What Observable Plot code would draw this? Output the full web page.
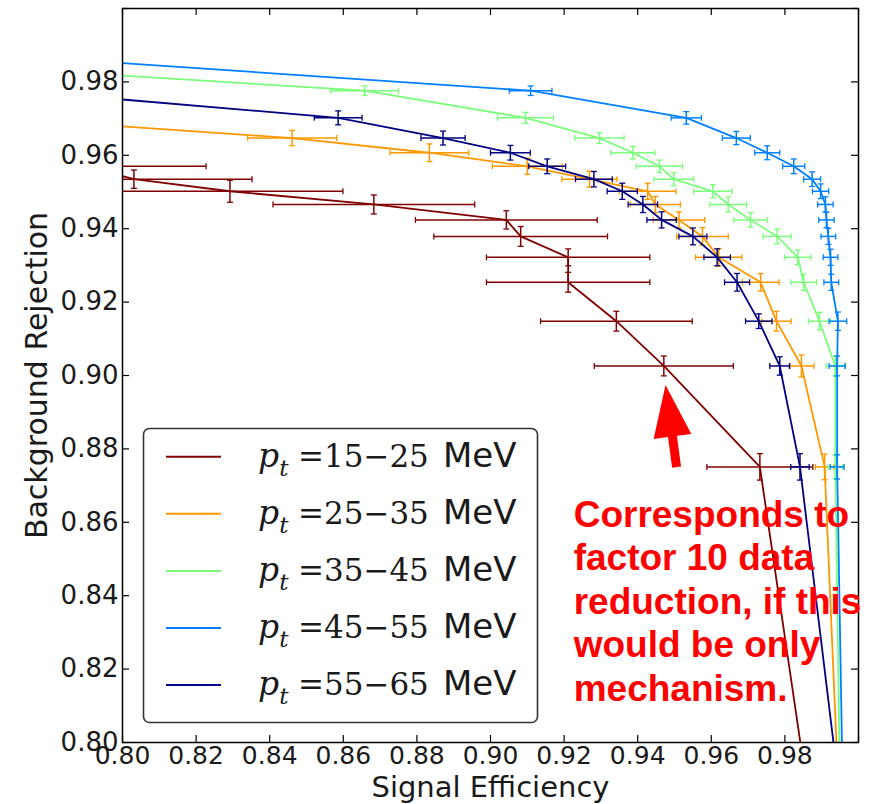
<!DOCTYPE html>
<html>
<head>
<meta charset="utf-8">
<script src="https://cdn.jsdelivr.net/npm/d3@7"></script>
<script src="https://cdn.jsdelivr.net/npm/@observablehq/plot@0.6"></script>
<style>
  html, body { margin: 0; padding: 0; background: #fff; }
  #wrap { position: relative; width: 875px; height: 804px; overflow: hidden; }
  #wrap > svg { position: absolute; left: 0; top: 0; }
</style>
</head>
<body>
<div id="wrap"></div>
<script>
// ---------------- data ----------------
const ptRanges = ["15\u221225", "25\u221235", "35\u221245", "45\u221255", "55\u221265"];
const seriesColors = ["#800000", "#ff9700", "#7bff7b", "#0080ff", "#000080"];

// pT 15-25 MeV (first point lies just left of the frame, last point is where the line leaves the frame)
const eff_15_25    = [0.7899, 0.8031, 0.8292, 0.8683, 0.9043, 0.9082, 0.9211, 0.9211, 0.9342, 0.9471, 0.9732, 0.9842];
const rej_15_25    = [0.9570, 0.9535, 0.9502, 0.9466, 0.9424, 0.9379, 0.9322, 0.9254, 0.9148, 0.9026, 0.8751, 0.8000];
const effErr_15_25 = [0.0328, 0.0321, 0.0307, 0.0274, 0.0247, 0.0236, 0.0222, 0.0222, 0.0206, 0.0189, 0.0144, null];
const rejErr_15_25 = [0.0025, 0.0025, 0.0030, 0.0026, 0.0025, 0.0027, 0.0023, 0.0027, 0.0027, 0.0027, 0.0036, null];

// pT 25-35 MeV
const eff_25_35    = [0.8000, 0.8461, 0.8834, 0.9100, 0.9269, 0.9427, 0.9448, 0.9512, 0.9576, 0.9620, 0.9734, 0.9777, 0.9845, 0.9908, 0.9940];
const rej_25_35    = [0.9679, 0.9647, 0.9607, 0.9570, 0.9535, 0.9502, 0.9466, 0.9424, 0.9379, 0.9322, 0.9254, 0.9148, 0.9026, 0.8751, 0.8000];
const effErr_25_35 = [null, 0.0121, 0.0107, 0.0095, 0.0075, 0.0077, 0.0068, 0.0070, 0.0070, 0.0063, 0.0050, 0.0040, 0.0034, 0.0025, null];
const rejErr_25_35 = [null, 0.0021, 0.0024, 0.0022, 0.0022, 0.0022, 0.0022, 0.0022, 0.0024, 0.0024, 0.0024, 0.0027, 0.0030, 0.0035, null];

// pT 35-45 MeV
const eff_35_45    = [0.8000, 0.8658, 0.9095, 0.9296, 0.9387, 0.9459, 0.9498, 0.9604, 0.9646, 0.9707, 0.9779, 0.9835, 0.9851, 0.9894, 0.9937, 0.9937, 0.9948];
const rej_35_45    = [0.9817, 0.9776, 0.9702, 0.9647, 0.9607, 0.9570, 0.9535, 0.9502, 0.9466, 0.9424, 0.9379, 0.9322, 0.9254, 0.9148, 0.9026, 0.8751, 0.8000];
const effErr_35_45 = [null, 0.0092, 0.0076, 0.0067, 0.0060, 0.0063, 0.0054, 0.0052, 0.0050, 0.0046, 0.0038, 0.0036, 0.0035, 0.0030, 0.0025, 0.0020, null];
const rejErr_35_45 = [null, 0.0013, 0.0015, 0.0015, 0.0017, 0.0017, 0.0018, 0.0018, 0.0020, 0.0020, 0.0020, 0.0020, 0.0022, 0.0024, 0.0027, 0.0032, null];

// pT 45-55 MeV
const eff_45_55    = [0.8000, 0.9109, 0.9532, 0.9668, 0.9752, 0.9824, 0.9874, 0.9897, 0.9910, 0.9913, 0.9918, 0.9924, 0.9926, 0.9944, 0.9942, 0.9942, 0.9955];
const rej_45_55    = [0.9851, 0.9776, 0.9702, 0.9647, 0.9607, 0.9570, 0.9535, 0.9502, 0.9466, 0.9424, 0.9379, 0.9322, 0.9254, 0.9148, 0.9026, 0.8751, 0.8000];
const effErr_45_55 = [null, 0.0058, 0.0041, 0.0038, 0.0034, 0.0030, 0.0023, 0.0022, 0.0021, 0.0021, 0.0020, 0.0020, 0.0020, 0.0024, 0.0022, 0.0019, null];
const rejErr_45_55 = [null, 0.0013, 0.0017, 0.0018, 0.0019, 0.0020, 0.0020, 0.0020, 0.0021, 0.0021, 0.0022, 0.0022, 0.0022, 0.0025, 0.0027, 0.0033, null];

// pT 55-65 MeV
const eff_55_65    = [0.8000, 0.8586, 0.8871, 0.9054, 0.9154, 0.9281, 0.9358, 0.9414, 0.9465, 0.9550, 0.9616, 0.9670, 0.9729, 0.9786, 0.9841, 0.9932];
const rej_55_65    = [0.9752, 0.9702, 0.9647, 0.9607, 0.9570, 0.9535, 0.9502, 0.9466, 0.9424, 0.9379, 0.9322, 0.9254, 0.9148, 0.9026, 0.8751, 0.8000];
const effErr_55_65 = [null, 0.0065, 0.0060, 0.0054, 0.0050, 0.0050, 0.0041, 0.0040, 0.0040, 0.0038, 0.0036, 0.0034, 0.0036, 0.0027, 0.0025, null];
const rejErr_55_65 = [null, 0.0019, 0.0019, 0.0020, 0.0020, 0.0021, 0.0022, 0.0022, 0.0022, 0.0023, 0.0023, 0.0024, 0.0020, 0.0025, 0.0036, null];

const xTickValues = [0.80, 0.82, 0.84, 0.86, 0.88, 0.90, 0.92, 0.94, 0.96, 0.98, 1.00];
const xTickLabels = ["0.80", "0.82", "0.84", "0.86", "0.88", "0.90", "0.92", "0.94", "0.96", "0.98"];
const yTickValues = [0.80, 0.82, 0.84, 0.86, 0.88, 0.90, 0.92, 0.94, 0.96, 0.98, 1.00];
const yTickLabels = ["0.80", "0.82", "0.84", "0.86", "0.88", "0.90", "0.92", "0.94", "0.96", "0.98"];
const xLabel = "Signal Efficiency";
const yLabel = "Background Rejection";

const noteText = ["Corresponds to", "factor 10 data", "reduction, if this", "would be only", "mechanism."];
const noteAt = [0.9226, 0.8673];          // top-left of the note, data units
const arrowTail = [0.9507, 0.8749];       // data units
const arrowTip = [0.9477, 0.8973];        // data units

// ---------------- build tables ----------------
const seriesData = [
  [eff_15_25, rej_15_25, effErr_15_25, rejErr_15_25],
  [eff_25_35, rej_25_35, effErr_25_35, rejErr_25_35],
  [eff_35_45, rej_35_45, effErr_35_45, rejErr_35_45],
  [eff_45_55, rej_45_55, effErr_45_55, rejErr_45_55],
  [eff_55_65, rej_55_65, effErr_55_65, rejErr_55_65]
];
const series = seriesData.map(([xs, ys, xe, ye], i) => ({
  label: ptRanges[i],
  color: seriesColors[i],
  points: xs.map((x, j) => ({x, y: ys[j], xe: xe[j], ye: ye[j]}))
}));

// ---------------- styles ----------------
const W = 875, H = 804;
const M = {left: 122, right: 17, top: 8, bottom: 62};
const frameW = W - M.left - M.right, frameH = H - M.top - M.bottom;
const TICK = 7;

const capV = {draw(ctx, size) { const r = Math.sqrt(size / Math.PI); ctx.moveTo(0, -r); ctx.lineTo(0, r); }};
const capH = {draw(ctx, size) { const r = Math.sqrt(size / Math.PI); ctx.moveTo(-r, 0); ctx.lineTo(r, 0); }};

const marks = [];
for (const s of series) {
  const err = s.points.filter(d => d.xe != null);
  marks.push(Plot.line(s.points, {x: "x", y: "y", stroke: s.color, strokeWidth: 1.8, clip: true}));
  marks.push(Plot.link(err, {x1: d => d.x - d.xe, x2: d => d.x + d.xe, y1: "y", y2: "y", stroke: s.color, strokeWidth: 1.5, clip: true}));
  marks.push(Plot.link(err, {x1: "x", x2: "x", y1: d => d.y - d.ye, y2: d => d.y + d.ye, stroke: s.color, strokeWidth: 1.5, clip: true}));
  const capsX = err.flatMap(d => [{x: d.x - d.xe, y: d.y}, {x: d.x + d.xe, y: d.y}]);
  const capsY = err.flatMap(d => [{x: d.x, y: d.y - d.ye}, {x: d.x, y: d.y + d.ye}]);
  marks.push(Plot.dot(capsX, {x: "x", y: "y", r: 3, symbol: capV, stroke: s.color, fill: "none", strokeWidth: 1.3, clip: true}));
  marks.push(Plot.dot(capsY, {x: "x", y: "y", r: 3, symbol: capH, stroke: s.color, fill: "none", strokeWidth: 1.3, clip: true}));
}

// filled annotation arrow
const arrowMark = (index, scales) => {
  const x1 = scales.x(arrowTail[0]), y1 = scales.y(arrowTail[1]);
  const x2 = scales.x(arrowTip[0]), y2 = scales.y(arrowTip[1]);
  const len = Math.hypot(x2 - x1, y2 - y1);
  const ux = (x2 - x1) / len, uy = (y2 - y1) / len;
  const nx = -uy, ny = ux;
  const shaft = 4.5, head = 19, headLen = 52;
  const bx = x2 - ux * headLen, by = y2 - uy * headLen;
  const pts = [
    [x1 + nx * shaft, y1 + ny * shaft],
    [bx + nx * shaft, by + ny * shaft],
    [bx + nx * head, by + ny * head],
    [x2, y2],
    [bx - nx * head, by - ny * head],
    [bx - nx * shaft, by - ny * shaft],
    [x1 - nx * shaft, y1 - ny * shaft]
  ];
  const path = d3.create("svg:path")
    .attr("d", "M" + pts.map(p => p.join(",")).join("L") + "Z")
    .attr("fill", "#ff0000");
  return path.node();
};

const chart = Plot.plot({
  width: W, height: H,
  marginLeft: M.left, marginRight: M.right, marginTop: M.top, marginBottom: M.bottom,
  x: {domain: [0.8, 1.0], axis: null},
  y: {domain: [0.8, 1.0], axis: null},
  style: {fontFamily: "DejaVu Sans", background: "white", overflow: "visible"},
  marks: [
    ...marks,
    // inward ticks on all four sides
    Plot.tickX(xTickValues, {x: d => d, insetTop: frameH - TICK, stroke: "#000", strokeWidth: 1.2}),
    Plot.tickX(xTickValues, {x: d => d, insetBottom: frameH - TICK, stroke: "#000", strokeWidth: 1.2}),
    Plot.tickY(yTickValues, {y: d => d, insetRight: frameW - TICK, stroke: "#000", strokeWidth: 1.2}),
    Plot.tickY(yTickValues, {y: d => d, insetLeft: frameW - TICK, stroke: "#000", strokeWidth: 1.2}),
    Plot.frame({stroke: "#000", strokeWidth: 1.5}),
    // tick labels
    Plot.text(xTickLabels, {x: d => +d, text: d => d, frameAnchor: "bottom", lineAnchor: "top", dy: 4, fontSize: 25, fill: "#1a1a1a", fontFamily: "DejaVu Sans"}),
    Plot.text(yTickLabels, {y: d => +d, text: d => d, frameAnchor: "left", textAnchor: "end", lineAnchor: "middle", dx: -4, fontSize: 26, fill: "#1a1a1a", fontFamily: "DejaVu Sans"}),
    // axis titles
    Plot.text([xLabel], {text: d => d, frameAnchor: "bottom", textAnchor: "middle", lineAnchor: "middle", dy: 45.6, fontSize: 29, fill: "#1a1a1a", fontFamily: "DejaVu Sans"}),
    Plot.text([yLabel], {text: d => d, frameAnchor: "left", textAnchor: "middle", rotate: -90, lineAnchor: "middle", dx: -85, fontSize: 30, fill: "#1a1a1a", fontFamily: "DejaVu Sans"}),
    // annotation
    Plot.text([noteText.join("\n")], {x: () => noteAt[0], y: () => noteAt[1], text: d => d, textAnchor: "start", lineAnchor: "top", lineHeight: 1.18, fontSize: 37, fontWeight: "bold", fill: "#ff0000", fontFamily: "Liberation Sans"}),
    arrowMark
  ]
});

const wrap = document.getElementById("wrap");
wrap.appendChild(chart);

// ---------------- legend (overlay, inside the axes) ----------------
const lg = d3.select(wrap).append("svg")
  .attr("width", W).attr("height", H)
  .style("pointer-events", "none");
lg.append("rect")
  .attr("x", 143.5).attr("y", 428.5).attr("width", 394).attr("height", 294)
  .attr("rx", 6).attr("ry", 6)
  .attr("fill", "#fff").attr("stroke", "#333").attr("stroke-width", 1.6);
series.forEach((s, i) => {
  const yc = 456.7 + 57.1 * i;
  lg.append("line")
    .attr("x1", 166).attr("x2", 221).attr("y1", yc).attr("y2", yc)
    .attr("stroke", s.color).attr("stroke-width", 2);
  const t = lg.append("text").attr("y", yc + 10).attr("fill", "#1a1a1a");
  t.append("tspan").attr("x", 258).attr("font-family", "DejaVu Serif").attr("font-style", "italic").attr("font-size", 33).text("p");
  t.append("tspan").attr("dy", 9).attr("font-family", "DejaVu Serif").attr("font-style", "italic").attr("font-size", 23).text("t");
  t.append("tspan").attr("x", 298).attr("dy", -9).attr("font-family", "DejaVu Serif").attr("font-size", 31).text("=" + s.label);
  t.append("tspan").attr("x", 443).attr("font-family", "DejaVu Sans").attr("font-size", 34).text("MeV");
});
</script>
</body>
</html>
